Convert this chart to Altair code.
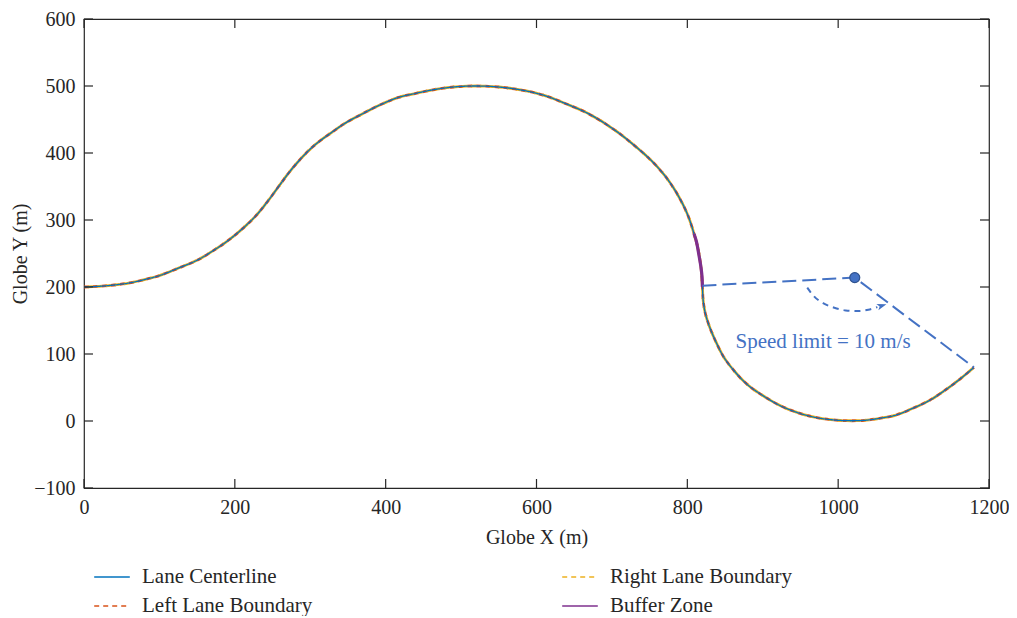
import altair as alt
import pandas as pd

# ---- data ----
# lane centerline samples (Globe X, Globe Y)
cl_x = [0, 20, 40, 60, 80, 100, 127, 150, 171, 193, 215, 230, 245, 260, 277, 303,
        330, 347, 370, 391, 417, 440, 461, 490, 519, 550, 580, 610, 638, 670, 704,
        730, 752, 771, 787, 800, 809, 814, 818, 820,
        821, 824, 830, 838, 848, 862, 879, 900, 923, 945, 967, 990, 1011, 1035,
        1055, 1077, 1099, 1120, 1143, 1162, 1180]
cl_y = [200, 201, 203, 206, 211, 217, 229, 240, 254, 271, 292, 309, 330, 353, 378, 409,
        432, 445, 459, 471, 483, 489, 494, 498.5, 500, 498.5, 494, 486, 474, 458, 434,
        411, 389, 365, 338, 309, 279, 258, 230, 200,
        180, 160, 139, 118, 96, 75, 55, 38, 23, 13, 6, 2, 0.5, 1,
        4, 9, 19, 30, 47, 63, 80]

# buffer zone samples
bz_x = [809, 812, 815, 818, 819.5, 820]
bz_y = [279, 268, 250, 230, 215, 200]

# speed-limit annotation
ann_x = [820, 1022, 1180]
ann_y = [202, 214, 80]
marker_x = [1022]
marker_y = [214]
arc_x = [959, 968, 980, 995, 1010, 1025, 1040, 1052]
arc_y = [199, 186, 176, 169, 165, 164, 166, 170]
head_x = [1058]
head_y = [172]
note_text = ["Speed limit = 10 m/s"]
note_x = [980]
note_y = [109]

x_ticks = [0, 200, 400, 600, 800, 1000, 1200]
y_ticks = [-100, 0, 100, 200, 300, 400, 500, 600]

series_names = ["Lane Centerline", "Left Lane Boundary", "Right Lane Boundary", "Buffer Zone"]
series_colors = ["#0072BD", "#D95319", "#EDB120", "#7E2F8E"]
series_dash = [[1, 0], [5, 4], [5, 4], [1, 0]]

# ---- styling ----
W, H = 905, 469
FONT = "Liberation Serif"
INK = "#262626"
NOTE = "#4472C4"

xs = alt.Scale(domain=[0, 1200], nice=False, zero=False)
ys = alt.Scale(domain=[-100, 600], nice=False, zero=False)

x_axis = alt.Axis(values=x_ticks, format="d", title="Globe X (m)", labelPadding=9,
                  titlePadding=10, labelFlush=False)
y_axis = alt.Axis(values=y_ticks, format="d", title="Globe Y (m)", labelPadding=9,
                  titlePadding=3, labelFlush=False)

legend = alt.Legend(orient="none", legendX=9, legendY=539, columns=2,
                    columnPadding=246, rowPadding=-10, symbolType="stroke",
                    symbolSize=1267, symbolStrokeWidth=1.5, labelFont=FONT,
                    labelFontSize=21, labelColor=INK, labelOffset=11,
                    labelLimit=400, padding=0)

color_enc = alt.Color("series:N", title=None,
                      scale=alt.Scale(domain=series_names, range=series_colors),
                      legend=legend)
dash_enc = alt.StrokeDash("series:N", title=None,
                          scale=alt.Scale(domain=series_names, range=series_dash),
                          legend=legend)

X = lambda f="x": alt.X(f + ":Q", scale=xs, axis=x_axis)
Y = lambda f="y": alt.Y(f + ":Q", scale=ys, axis=y_axis)


def path_df(xv, yv, name):
    return pd.DataFrame({"x": xv, "y": yv, "i": list(range(len(xv))), "series": name})


def lane_layer(xv, yv, name, width, dash, offset=0):
    return alt.Chart(path_df(xv, yv, name)).mark_line(
        interpolate="catmull-rom", strokeWidth=width, strokeDash=dash,
        strokeDashOffset=offset
    ).encode(
        x=X(), y=Y(), order="i:Q",
        color=color_enc, strokeDash=dash_enc,
    )


left_b = lane_layer(cl_x, cl_y, "Left Lane Boundary", 2.8, [4, 6])
right_b = lane_layer(cl_x, cl_y, "Right Lane Boundary", 2.8, [4, 6], offset=5)
center = lane_layer(cl_x, cl_y, "Lane Centerline", 1.3, [1, 0])
buffer_z = lane_layer(bz_x, bz_y, "Buffer Zone", 3.2, [1, 0])

ann = alt.Chart(path_df(ann_x, ann_y, "a")).mark_line(
    color=NOTE, strokeWidth=2, strokeDash=[14, 6]
).encode(x=X(), y=Y(), order="i:Q")

arc = alt.Chart(path_df(arc_x, arc_y, "b")).mark_line(
    color=NOTE, strokeWidth=2, strokeDash=[6, 5], interpolate="monotone"
).encode(x=X(), y=Y(), order="i:Q")

head = alt.Chart(pd.DataFrame({"x": head_x, "y": head_y})).mark_point(
    shape="M 1 0 L -1 -0.7 L -0.5 0 L -1 0.7 Z", filled=True, size=90, angle=343,
    color=NOTE, opacity=1
).encode(x=X(), y=Y())

marker = alt.Chart(pd.DataFrame({"x": marker_x, "y": marker_y})).mark_circle(
    size=100, fill=NOTE, stroke="#2F528F", strokeWidth=1.2, opacity=1
).encode(x=X(), y=Y())

note = alt.Chart(pd.DataFrame({"x": note_x, "y": note_y, "t": note_text})).mark_text(
    font=FONT, fontSize=21, color=NOTE, align="center", baseline="alphabetic"
).encode(x=X(), y=Y(), text="t:N")

# inward ticks on all four sides
xt = pd.DataFrame({"t": x_ticks})
yt = pd.DataFrame({"t": y_ticks})
tick_style = dict(color=INK, strokeWidth=1.2)
tick_b = alt.Chart(xt).mark_rule(**tick_style).encode(
    x=X("t"), y=alt.value(H), y2=alt.value(H - 9))
tick_t = alt.Chart(xt).mark_rule(**tick_style).encode(
    x=X("t"), y=alt.value(0), y2=alt.value(9))
tick_l = alt.Chart(yt).mark_rule(**tick_style).encode(
    y=Y("t"), x=alt.value(0), x2=alt.value(9))
tick_r = alt.Chart(yt).mark_rule(**tick_style).encode(
    y=Y("t"), x=alt.value(W), x2=alt.value(W - 9))

chart = alt.layer(
    left_b, right_b, center, buffer_z, ann, arc, head, marker, note,
    tick_b, tick_t, tick_l, tick_r,
).properties(
    width=W, height=H,
    autosize=alt.AutoSizeParams(type="none"),
    padding={"left": 76, "top": 11, "right": 20, "bottom": 128},
    background="white",
).configure_view(
    stroke=INK, strokeWidth=1.2
).configure_axis(
    labelFont=FONT, labelFontSize=20, labelColor=INK,
    titleFont=FONT, titleFontSize=20, titleColor=INK, titleFontWeight="normal",
    domain=False, ticks=False, tickSize=0, grid=False,
)

chart.save("out.html", embed_options={"renderer": "svg", "actions": False})
